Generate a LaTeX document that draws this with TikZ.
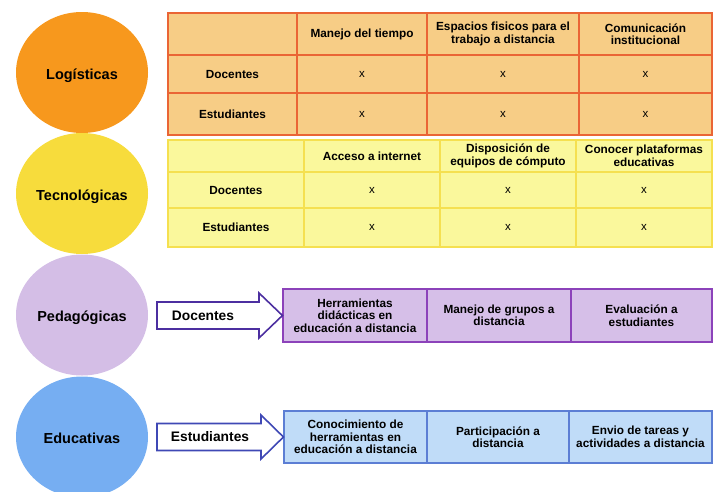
\documentclass[tikz,border=0pt]{standalone}
\usepackage{fontspec}
\setmainfont{Liberation Sans}
\usetikzlibrary{shapes.geometric,positioning}
\definecolor{logcirc}{HTML}{F7981D}
\definecolor{logfill}{HTML}{F7CD86}
\definecolor{logline}{HTML}{EA6535}
\definecolor{teccirc}{HTML}{F7DC3C}
\definecolor{tecfill}{HTML}{FAF89C}
\definecolor{tecline}{HTML}{F5E050}
\definecolor{pedcirc}{HTML}{D4BEE6}
\definecolor{pedfill}{HTML}{D6BFE8}
\definecolor{pedline}{HTML}{8C42BA}
\definecolor{pedarrow}{HTML}{4C2FA0}
\definecolor{educirc}{HTML}{76AEF2}
\definecolor{edufill}{HTML}{C0DCF8}
\definecolor{eduline}{HTML}{5C7ED4}
\definecolor{eduarrow}{HTML}{3F48B5}

\begin{document}
\begin{tikzpicture}[x=1pt,y=-1pt]
\tikzstyle{area}=[ellipse,minimum width=132pt,minimum height=121pt,inner sep=0pt,text height=13pt,text depth=0pt,font=\fontsize{14.5}{16}\selectfont\bfseries]
\tikzstyle{cell}=[rectangle,draw,inner sep=0pt,line width=1.1pt,align=center,font=\fontsize{11.8}{12.5}\selectfont\bfseries]
\tikzstyle{xmark}=[font=\fontsize{11.5}{12}\selectfont\mdseries]
\tikzstyle{ocell}=[cell,fill=logfill,draw=logline]
\tikzstyle{ycell}=[cell,fill=tecfill,draw=tecline]
\tikzstyle{pcell}=[cell,fill=pedfill,draw=pedline,minimum height=53pt]
\tikzstyle{bcell}=[cell,fill=edufill,draw=eduline,minimum height=52pt]
\tikzstyle{blockarrow}=[fill=white,line width=1.6pt,line join=miter]

\useasboundingbox (0,0) rectangle (718,491);
\clip (0,0) rectangle (718,491);

% circles
\node [area,fill=logcirc] (log) at (82,72.5) {Logísticas};
\node [area,fill=teccirc] (tec) at (82,193.5) {Tecnológicas};
\node [area,fill=pedcirc] (ped) at (82,315) {Pedagógicas};
\node [area,fill=educirc] (edu) at (82,437) {Educativas};

% logisticas table
\node [ocell,minimum width=129pt,minimum height=42pt] (o00) at (232.5,34) {};
\node [ocell,minimum width=130pt,minimum height=42pt] (o01) at (362,34) {Manejo del tiempo};
\node [ocell,minimum width=152pt,minimum height=42pt] (o02) at (503,34) {Espacios fisicos para el\\trabajo a distancia};
\node [ocell,minimum width=133pt,minimum height=42pt] (o03) at (645.5,34) {Comunicación\\institucional};
\node [ocell,minimum width=129pt,minimum height=38pt] (o10) at (232.5,74) {Docentes};
\node [ocell,minimum width=129pt,minimum height=42pt] (o20) at (232.5,114) {Estudiantes};
\foreach \r/\y/\h in {1/74/38,2/114/42}
  \foreach \c/\x/\w in {1/362/130,2/503/152,3/645.5/133}
    \node [ocell,xmark,minimum width=\w pt,minimum height=\h pt] (o\r\c) at (\x,\y) {x};

% tecnologicas table
\node [ycell,minimum width=136pt,minimum height=32pt] (y00) at (236,156) {};
\node [ycell,minimum width=136pt,minimum height=32pt] (y01) at (372,156) {Acceso a internet};
\node [ycell,minimum width=136pt,minimum height=32pt] (y02) at (508,156) {Disposición de\\equipos de cómputo};
\node [ycell,minimum width=136pt,minimum height=32pt] (y03) at (644,156) {Conocer plataformas\\educativas};
\node [ycell,minimum width=136pt,minimum height=36pt] (y10) at (236,190) {Docentes};
\node [ycell,minimum width=136pt,minimum height=39pt] (y20) at (236,227.5) {Estudiantes};
\foreach \r/\y/\h in {1/190/36,2/227.5/39}
  \foreach \c/\x in {1/372,2/508,3/644}
    \node [ycell,xmark,minimum width=136pt,minimum height=\h pt] (y\r\c) at (\x,\y) {x};

% pedagogicas row
\node [pcell,minimum width=144pt] (p1) at (355,315.5) {Herramientas\\didácticas en\\educación a distancia};
\node [pcell,minimum width=144pt] (p2) at (499,315.5) {Manejo de grupos a\\distancia};
\node [pcell,minimum width=141pt] (p3) at (641.5,315.5) {Evaluación a\\estudiantes};

% educativas row
\node [bcell,minimum width=143pt] (b1) at (355.5,437) {Conocimiento de\\herramientas en\\educación a distancia};
\node [bcell,minimum width=142pt] (b2) at (498,437) {Participación a\\distancia};
\node [bcell,minimum width=143pt] (b3) at (640.5,437) {Envio de tareas y\\actividades a distancia};

% arrows
\draw [blockarrow,draw=pedarrow] (157,302) -- (259,302) -- (259,293) -- (p1.west) -- (259,338) -- (259,329) -- (157,329) -- cycle;
\draw [blockarrow,draw=eduarrow] (157,423.5) -- (261,423.5) -- (261,415) -- (b1.west) -- (261,459) -- (261,450.5) -- (157,450.5) -- cycle;
\node [font=\fontsize{13.8}{15}\selectfont\bfseries] (docl) at (203,316) {Docentes};
\node [font=\fontsize{13.8}{15}\selectfont\bfseries] (estl) at (210,437) {Estudiantes};
\end{tikzpicture}
\end{document}
